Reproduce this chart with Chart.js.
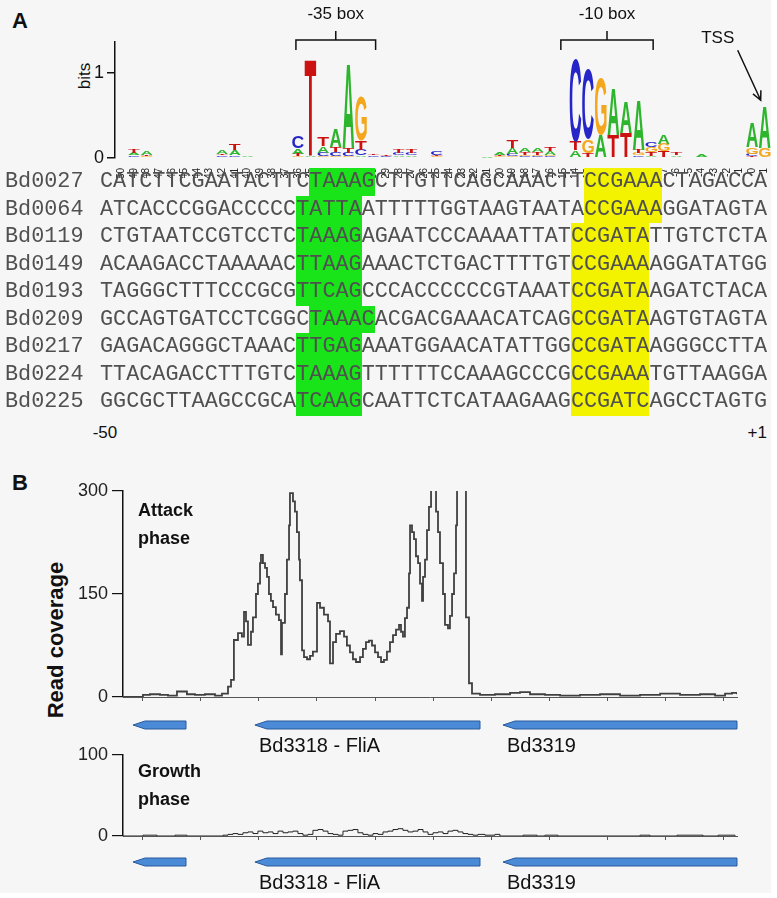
<!DOCTYPE html>
<html>
<head>
<meta charset="utf-8">
<script src="https://cdn.jsdelivr.net/npm/chart.js@4.4.1/dist/chart.umd.min.js"></script>
<style>
  html, body { margin: 0; padding: 0; background: #fff; }
  #fig { position: relative; width: 771px; height: 893px; background: #f6f6f6; overflow: hidden;
         font-family: "Liberation Sans", Arial, sans-serif; color: #111; }
  .box { position: absolute; left: 0; width: 771px; }
  .txt { position: absolute; white-space: nowrap; line-height: 1; }
  .panel { font-weight: bold; font-size: 22px; }
  .phase { font-weight: bold; font-size: 18px; left: 138px; }
  #align { position: absolute; left: 0; top: 0; font-family: "Liberation Mono", "Courier New", monospace;
           font-size: 21.8px; color: #505050; }
  .row { position: absolute; left: 0; width: 771px; height: 27.5px; line-height: 27.5px; white-space: pre; }
  .row .id { position: absolute; left: 5px; }
  .row .seq { position: absolute; left: 100px; }
  .row .hl { display: inline-block; height: 27.5px; }
</style>
</head>
<body>
<div id="fig">
  <div class="txt panel" style="left:12px;top:10px">A</div>
  <div class="txt panel" style="left:12px;top:472px">B</div>
  <div class="txt" style="left:84px;top:76px;font-size:17px;transform:translate(-50%,-50%) rotate(-90deg)">bits</div>

  <div class="box" style="top:0;height:178px"><canvas id="logo"></canvas></div>
  <div id="align"></div>
  <div class="txt" style="left:105px;top:424px;font-size:17px;transform:translateX(-50%)">-50</div>
  <div class="txt" style="right:4px;top:424px;font-size:17px">+1</div>

  <div class="txt" style="left:56px;top:640px;font-size:22px;font-weight:bold;transform:translate(-50%,-50%) rotate(-90deg)">Read coverage</div>

  <div class="box" style="top:470px;height:242px"><canvas id="attack"></canvas></div>
  <div class="txt phase" style="top:501px">Attack</div>
  <div class="txt phase" style="top:529px">phase</div>
  <div class="box" style="top:712px;height:50px"><canvas id="attackGenes"></canvas></div>

  <div class="box" style="top:738px;height:113px"><canvas id="growth"></canvas></div>
  <div class="txt phase" style="top:762px">Growth</div>
  <div class="txt phase" style="top:790px">phase</div>
  <div class="box" style="top:850px;height:48px"><canvas id="growthGenes"></canvas></div>
</div>

<script>
"use strict";

// ---- Panel A: sequence logo (bits per position) ----
const logoLabels = ["-50","-49","-48","-47","-46","-45","-44","-43","-42","-41","-40","-39","-38","-37",
  "-36","-35","-34","-33","-32","-31","-30","-29","-28","-27","-26","-25","-24","-23","-22","-21","-20",
  "-19","-18","-17","-16","-15","-14","-13","-12","-11","-10","-9","-8","-7","-6","-5","-4","-3","-2",
  "-1","0","1"];
const bitsA = [0,.03,.04,0,0,0,0,0,.05,.06, .02,0,0,0,.06,.03,.08,.22,1.0,.03, 0,.01,.02,.02,0,.01,0,0,0,.015,
  .03,.07,.05,.05,.04,0,.09,0,.27,.55, .37,.58,.02,.1,.02,0,.03,0,0,0, .29,.48];
const bitsC = [0,.02,.01,0,0,0,0,0,.02,.02, 0,0,0,0,.14,0,.04,.05,.04,.07, .02,.01,.03,.03,0,.05,0,0,0,0,
  .01,.03,.02,.02,.02,0,.97,.82,0,0, 0,.03,.065,0,.01,0,0,0,0,0, .03,0];
const bitsG = [0,.01,.01,0,0,0,0,0,.01,.01, .01,0,0,0,.02,0,.02,.02,.02,.52, .01,0,.01,.01,0,.01,0,0,0,.005,
  .01,.02,.02,.02,.02,0,0,.16,.67,0, 0,.03,.06,.09,0,0,0,0,0,0, .08,.12];
const bitsT = [0,.04,.02,0,0,0,0,0,.02,.07, 0,0,0,0,.03,1.13,.11,.06,.06,.1, .02,.02,.04,.04,0,.02,0,0,0,0,
  .02,.09,.03,.03,.05,0,.1,.06,0,.27, .3,.04,.05,.08,.03,0,.01,0,0,0, .02,0];
const logoTicks = [0, 1];

const boxLabels = ["-35 box", "-10 box"];
const boxFrom = ["-36", "-15"];
const boxTo = ["-30", "-8"];
const tssPos = "1";

// ---- Panel A: aligned promoters ----
const seqIds = ["Bd0027","Bd0064","Bd0119","Bd0149","Bd0193","Bd0209","Bd0217","Bd0224","Bd0225"];
const seqs = [
  "CATCTTCGAATACTTCTAAAGCTTGTTCAGCAAACTTCCGAAACTAGACCA",
  "ATCACCCGGACCCCCTATTAATTTTTGGTAAGTAATACCGAAAGGATAGTA",
  "CTGTAATCCGTCCTCTAAAGAGAATCCCAAAATTATCCGATATTGTCTCTA",
  "ACAAGACCTAAAAACTTAAGAAACTCTGACTTTTGTCCGAAAAGGATATGG",
  "TAGGGCTTTCCCGCGTTCAGCCCACCCCCCGTAAATCCGATAAGATCTACA",
  "GCCAGTGATCCTCGGCTAAACACGACGAAACATCAGCCGATAAGTGTAGTA",
  "GAGACAGGGCTAAACTTGAGAAATGGAACATATTGGCCGATAAGGGCCTTA",
  "TTACAGACCTTTGTCTAAAGTTTTTTCCAAAGCCCGCCGAAATGTTAAGGA",
  "GGCGCTTAAGCCGCATCAAGCAATTCTCATAAGAAGCCGATCAGCCTAGTG"
];
const box35Start = [16, 15, 15, 15, 15, 16, 15, 15, 15];
const box10Start = [37, 37, 36, 36, 36, 36, 36, 36, 36];

// ---- Panel B: read coverage (position in bp, reads) ----
const attackPos = [-172,0,60,147,216,293,379,448,534,621,681,733,759,784,819,853,871,888,905,931,948,974,991,
  1009,1017,1034,1052,1069,1086,1103,1121,1146,1172,1190,1198,1224,1241,1259,1267,1293,1310,1327,1345,1353,
  1371,1388,1414,1440,1465,1500,1526,1560,1595,1612,1638,1664,1698,1733,1758,1784,1810,1836,1871,1896,1922,
  1948,1974,2000,2026,2052,2077,2103,2129,2155,2181,2207,2224,2241,2258,2276,2293,2302,2319,2336,2353,2371,
  2388,2405,2414,2431,2448,2465,2483,2508,2526,2543,2560,2586,2603,2629,2646,2664,2681,2698,2707,2784,2810,
  2836,2905,3034,3164,3250,3336,3465,3595,3767,3939,4112,4284,4457,4629,4801,4931,5017,5077,5120];
const attackCov = [0,3,4,3,2,8,4,3,4,2,5,15,25,83,93,88,124,110,76,95,116,150,165,195,207,195,188,175,150,140,
  131,120,112,62,108,150,200,250,297,285,270,240,200,170,68,58,55,60,66,137,130,120,110,49,80,92,96,88,75,65,
  55,51,58,70,80,82,75,65,58,51,54,66,80,90,98,105,95,88,115,130,180,250,240,230,205,195,165,140,175,200,243,
  277,305,310,270,240,195,150,105,100,118,150,180,250,420,116,20,5,3,4,6,7,4,3,2,3,4,2,3,5,3,4,2,5,6,4];

const growthPos = [-172,0,121,276,379,690,733,776,819,862,905,948,991,1034,1078,1121,1164,1207,1250,1293,1336,
  1379,1422,1465,1509,1552,1595,1638,1681,1724,1767,1810,1853,1896,1940,1983,2026,2069,2112,2155,2198,2241,
  2284,2327,2371,2414,2457,2500,2543,2586,2629,2672,2715,2758,2802,2845,2888,2948,3034,3077,3276,3396,3465,
  3577,4284,4370,4603,4827,4957,5103];
const growthCov = [0,1,0,1,0,1,2,3,2,4,5,3,6,4,5,3,6,4,5,6,3,1,2,7,8,6,3,2,1,6,7,8,4,2,1,3,2,5,6,8,9,7,5,6,8,5,
  2,4,5,3,6,7,5,3,2,1,2,1,2,0,1,0,1,0,1,0,1,0,1,0];

const posMin = -172;
const posMax = 5120;
const posTicks = [0, 500, 1000, 1500, 2000, 2500, 3000, 3500, 4000, 4500, 5000];

// ---- Panel B: genes (all on the minus strand) ----
const geneNames = ["", "Bd3318 - FliA", "Bd3319"];
const geneStart = [-86, 965, 3103];
const geneEnd = [371, 2905, 5120];

const letterColors = { A: "#2db52d", C: "#2626c8", G: "#f4a61c", T: "#cc1111" };
const FONT = '"Liberation Sans", Arial, sans-serif';
Chart.defaults.font.family = FONT;
Chart.defaults.color = "#222";

// alignment rows
(() => {
  const host = document.getElementById("align");
  seqs.forEach((seq, k) => {
    const row = document.createElement("div");
    row.className = "row";
    row.style.top = (168.25 + k * 27.5) + "px";
    const a = box35Start[k], b = box10Start[k];
    row.innerHTML = '<span class="id">' + seqIds[k] + '</span><span class="seq">' +
      seq.slice(0, a) + '<span class="hl" style="background:#19e319">' + seq.slice(a, a + 5) + '</span>' +
      seq.slice(a + 5, b) + '<span class="hl" style="background:#f3f300">' + seq.slice(b, b + 6) + '</span>' +
      seq.slice(b + 6) + '</span>';
    host.appendChild(row);
  });
})();

// stack letters per column: smallest at the bottom, tallest on top
const logoRanks = [0, 1, 2, 3].map(() => ({ values: [], letters: [] }));
logoLabels.forEach((_, i) => {
  const col = [["A", bitsA[i]], ["C", bitsC[i]], ["G", bitsG[i]], ["T", bitsT[i]]]
    .sort((p, q) => p[1] - q[1]);
  col.forEach((c, r) => { logoRanks[r].values.push(c[1]); logoRanks[r].letters.push(c[0]); });
});

const logoLetters = {
  id: "logoLetters",
  afterDatasetsDraw(chart) {
    const ctx = chart.ctx;
    ctx.save();
    ctx.font = "bold 100px " + FONT;
    ctx.textAlign = "left";
    ctx.textBaseline = "alphabetic";
    chart.data.datasets.forEach((ds, d) => {
      chart.getDatasetMeta(d).data.forEach((bar, i) => {
        const p = bar.getProps(["x", "y", "base", "width"], true);
        const h = p.base - p.y;
        if (h < 0.8) return;
        const letter = ds.letters[i];
        const m = ctx.measureText(letter);
        const gw = m.actualBoundingBoxLeft + m.actualBoundingBoxRight;
        const gh = m.actualBoundingBoxAscent + m.actualBoundingBoxDescent;
        ctx.save();
        ctx.translate(p.x - p.width / 2, p.y);
        ctx.scale(p.width / gw, h / gh);
        ctx.fillStyle = letterColors[letter];
        ctx.fillText(letter, m.actualBoundingBoxLeft, m.actualBoundingBoxAscent);
        ctx.restore();
      });
    });
    ctx.restore();
  }
};

// brackets over the boxes + TSS arrow
const logoNotes = {
  id: "logoNotes",
  afterDraw(chart) {
    const { ctx, chartArea, scales } = chart;
    const top = chartArea.top;
    ctx.save();
    ctx.strokeStyle = "#111";
    ctx.fillStyle = "#111";
    ctx.lineWidth = 1.5;
    ctx.font = "17px " + FONT;
    ctx.textAlign = "center";
    ctx.textBaseline = "middle";
    boxLabels.forEach((label, k) => {
      const x0 = scales.x.getPixelForValue(logoLabels.indexOf(boxFrom[k])) - 2;
      const x1 = scales.x.getPixelForValue(logoLabels.indexOf(boxTo[k])) + 2;
      const xm = (x0 + x1) / 2, hy = top - 2;
      ctx.beginPath();
      ctx.moveTo(x0, top + 8); ctx.lineTo(x0, hy); ctx.lineTo(x1, hy); ctx.lineTo(x1, top + 8);
      ctx.moveTo(xm, hy); ctx.lineTo(xm, hy - 9);
      ctx.stroke();
      ctx.fillText(label, xm, top - 28);
    });
    const tipX = scales.x.getPixelForValue(logoLabels.indexOf(tssPos)) - 4;
    const tipY = scales.y.getPixelForValue(0.68);
    const sx = tipX - 23, sy = tipY - 50;
    const ang = Math.atan2(tipY - sy, tipX - sx);
    ctx.beginPath();
    ctx.moveTo(sx, sy); ctx.lineTo(tipX, tipY);
    ctx.moveTo(tipX - 10 * Math.cos(ang - 0.45), tipY - 10 * Math.sin(ang - 0.45));
    ctx.lineTo(tipX, tipY);
    ctx.lineTo(tipX - 10 * Math.cos(ang + 0.45), tipY - 10 * Math.sin(ang + 0.45));
    ctx.stroke();
    ctx.fillText("TSS", sx - 20, sy - 12);
    ctx.restore();
  }
};

new Chart(document.getElementById("logo"), {
  type: "bar",
  data: {
    labels: logoLabels,
    datasets: logoRanks.map((r) => ({
      data: r.values, letters: r.letters,
      backgroundColor: "rgba(0,0,0,0)", borderWidth: 0,
      barPercentage: 0.92, categoryPercentage: 1
    }))
  },
  options: {
    responsive: true, maintainAspectRatio: false, animation: false,
    layout: { padding: { top: 42, right: 0, left: 0, bottom: 0 } },
    plugins: { legend: { display: false }, tooltip: { enabled: false } },
    scales: {
      x: {
        stacked: true,
        afterFit: (s) => { s.height = 20; s.paddingLeft = 0; s.paddingRight = 0; },
        ticks: { autoSkip: false, minRotation: 90, maxRotation: 90, padding: 2, color: "#222", font: { size: 10 } },
        grid: { display: false }, border: { display: false }
      },
      y: {
        stacked: true, min: 0, max: 1.365,
        afterFit: (s) => { s.width = 115; },
        afterBuildTicks: (s) => { s.ticks = logoTicks.map((v) => ({ value: v })); },
        ticks: { color: "#111", font: { size: 18 }, padding: 3 },
        grid: { drawOnChartArea: false, drawTicks: true, tickLength: 8, color: "#111", lineWidth: 1.5 },
        border: { color: "#111", width: 1.5 }
      }
    }
  },
  plugins: [logoLetters, logoNotes]
});

function coverageChart(id, pos, cov, yMax, yStep, padTop, color, width) {
  return new Chart(document.getElementById(id), {
    type: "line",
    data: {
      datasets: [{
        data: pos.map((x, i) => ({ x, y: cov[i] })),
        stepped: true, borderColor: color, borderWidth: width,
        pointRadius: 0, fill: false, clip: 0
      }]
    },
    options: {
      responsive: true, maintainAspectRatio: false, animation: false,
      layout: { padding: { top: padTop, right: 34, left: 0, bottom: 0 } },
      plugins: { legend: { display: false }, tooltip: { enabled: false } },
      scales: {
        x: {
          type: "linear", min: posMin, max: posMax,
          afterFit: (s) => { s.height = 15; },
          afterBuildTicks: (s) => { s.ticks = posTicks.map((v) => ({ value: v })); },
          ticks: { display: false },
          grid: { drawOnChartArea: false, drawTicks: true, tickLength: 4, color: "#555" },
          border: { color: "#555", width: 1 }
        },
        y: {
          min: 0, max: yMax,
          afterFit: (s) => { s.width = 123; },
          ticks: { stepSize: yStep, color: "#222", font: { size: 18 }, padding: 4 },
          grid: { drawOnChartArea: false, drawTicks: true, tickLength: 11, color: "#111", lineWidth: 1.2 },
          border: { color: "#111", width: 1.5 }
        }
      }
    }
  });
}

const geneArrows = {
  id: "geneArrows",
  afterDatasetsDraw(chart) {
    const ctx = chart.ctx;
    const right = chart.chartArea.right;
    ctx.save();
    chart.getDatasetMeta(0).data.forEach((bar, i) => {
      const p = bar.getProps(["x", "y", "base", "height"], true);
      const L = Math.min(p.x, p.base), R = Math.min(Math.max(p.x, p.base), right);
      const t = p.y - p.height / 2, b = p.y + p.height / 2;
      ctx.beginPath();
      ctx.moveTo(L, p.y); ctx.lineTo(L + 12, t); ctx.lineTo(R, t); ctx.lineTo(R, b); ctx.lineTo(L + 12, b);
      ctx.closePath();
      ctx.fillStyle = "#4a8ad6";
      ctx.fill();
      ctx.strokeStyle = "#2a5a9c";
      ctx.lineWidth = 1;
      ctx.stroke();
      if (geneNames[i]) {
        ctx.fillStyle = "#111";
        ctx.font = "20px " + FONT;
        ctx.textAlign = "left";
        ctx.textBaseline = "alphabetic";
        ctx.fillText(geneNames[i], L + 4, p.y + 27);
      }
    });
    ctx.restore();
  }
};

function geneChart(id) {
  return new Chart(document.getElementById(id), {
    type: "bar",
    data: {
      labels: ["genes"],
      datasets: [{
        data: geneStart.map((s, i) => ({ x: [s, geneEnd[i]], y: "genes" })),
        backgroundColor: "rgba(0,0,0,0)", borderWidth: 0, barThickness: 8
      }]
    },
    options: {
      indexAxis: "y",
      responsive: true, maintainAspectRatio: false, animation: false,
      layout: { padding: { top: 0, bottom: 24, left: 123, right: 34 } },
      plugins: { legend: { display: false }, tooltip: { enabled: false } },
      scales: {
        x: { type: "linear", min: posMin, max: posMax, display: false },
        y: { display: false }
      }
    },
    plugins: [geneArrows]
  });
}

coverageChart("attack", attackPos, attackCov, 300, 150, 21, "#404040", 1.8);
geneChart("attackGenes");
coverageChart("growth", growthPos, growthCov, 100, 100, 17, "#222", 1);
geneChart("growthGenes");
</script>
</body>
</html>
